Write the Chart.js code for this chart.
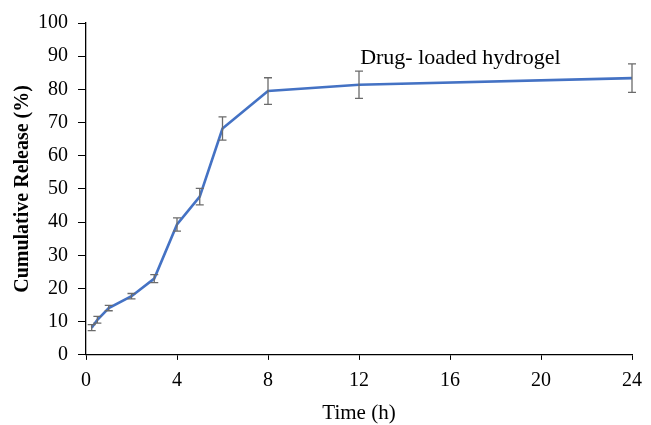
<!DOCTYPE html>
<html>
<head>
    <title>Cumulative Release</title>
    <script src="https://cdn.jsdelivr.net/npm/chart.js"></script>
    <style>
        body {
            margin: 0;
            background: #fff;
        }
        #wrap {
            width: 651px;
            height: 425px;
        }
    </style>
</head>
<body>
    <div id="wrap"><canvas id="releaseChart"></canvas></div>

    <script>
        // release profile of the drug-loaded hydrogel
        const timeH = [0.25, 0.5, 1, 2, 3, 4, 5, 6, 8, 12, 24];
        const release = [8.2, 10.6, 14.1, 17.7, 23.0, 39.3, 47.7, 68.2, 79.5, 81.4, 83.4];
        const releaseSd = [0.9, 1.0, 0.8, 0.8, 1.2, 2.0, 2.5, 3.5, 4.0, 4.1, 4.3];
        const seriesLabel = 'Drug- loaded hydrogel';

        const serif = "'Liberation Serif', 'Times New Roman', serif";

        // vertical error bars with caps, plus the series caption
        const errorBars = {
            id: 'errorBars',
            afterDatasetsDraw(chart) {
                const ctx = chart.ctx;
                const xs = chart.scales.x;
                const ys = chart.scales.y;
                ctx.save();
                ctx.strokeStyle = '#6b6b6b';
                ctx.lineWidth = 1.3;
                timeH.forEach((t, i) => {
                    const px = xs.getPixelForValue(t);
                    const top = ys.getPixelForValue(release[i] + releaseSd[i]);
                    const bot = ys.getPixelForValue(release[i] - releaseSd[i]);
                    ctx.beginPath();
                    ctx.moveTo(px, top);
                    ctx.lineTo(px, bot);
                    ctx.moveTo(px - 4, top);
                    ctx.lineTo(px + 4, top);
                    ctx.moveTo(px - 4, bot);
                    ctx.lineTo(px + 4, bot);
                    ctx.stroke();
                });
                ctx.fillStyle = '#000';
                ctx.font = "22px " + serif;
                ctx.textBaseline = 'middle';
                ctx.fillText(seriesLabel, xs.getPixelForValue(12.05), ys.getPixelForValue(89.3));
                ctx.restore();
            }
        };

        const ctx = document.getElementById('releaseChart').getContext('2d');

        new Chart(ctx, {
            type: 'line',
            data: {
                datasets: [{
                    label: seriesLabel,
                    data: timeH.map((t, i) => ({ x: t, y: release[i] })),
                    borderColor: '#4472c4',
                    borderWidth: 2.6,
                    pointRadius: 0,
                    tension: 0,
                    fill: false
                }]
            },
            options: {
                responsive: true,
                maintainAspectRatio: false,
                animation: false,
                layout: { autoPadding: false, padding: { top: 23, right: 14, left: 18, bottom: 0 } },
                plugins: {
                    legend: { display: false },
                    tooltip: { enabled: false }
                },
                scales: {
                    x: {
                        type: 'linear',
                        min: 0,
                        max: 24,
                        border: { color: '#000', width: 1.3 },
                        grid: { display: true, drawOnChartArea: false, color: '#000', tickLength: 5 },
                        ticks: { stepSize: 4, color: '#000', font: { family: serif, size: 20 }, padding: 9 },
                        title: { display: true, text: 'Time (h)', color: '#000', font: { family: serif, size: 21, lineHeight: 1.1 }, padding: { top: 0, bottom: 0 } }
                    },
                    y: {
                        min: 0,
                        max: 100,
                        border: { color: '#000', width: 1.3 },
                        grid: { display: true, drawOnChartArea: false, color: '#000', tickLength: 8 },
                        ticks: { stepSize: 10, color: '#000', font: { family: serif, size: 20 }, padding: 10 },
                        title: { display: true, text: 'Cumulative Release (%)', color: '#000', font: { family: serif, size: 20, weight: 'bold', lineHeight: 0.5 }, padding: { top: 0, bottom: 0 } }
                    }
                }
            },
            plugins: [errorBars]
        });
    </script>
</body>
</html>
